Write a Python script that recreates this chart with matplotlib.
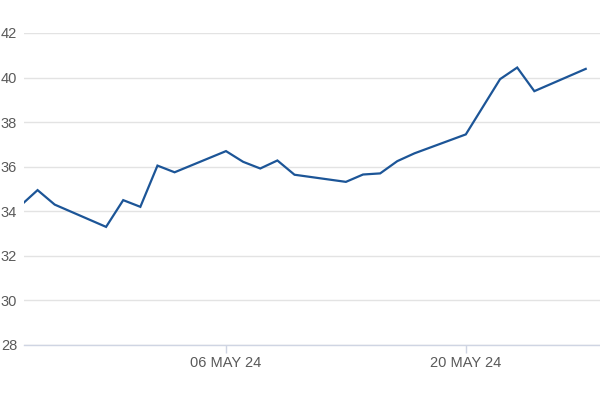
import matplotlib
matplotlib.use("Agg")
import matplotlib.pyplot as plt
import numpy as np
import pandas as pd

dates = ["2024-04-24", "2024-04-25", "2024-04-26", "2024-04-29", "2024-04-30",
         "2024-05-01", "2024-05-02", "2024-05-03", "2024-05-06", "2024-05-07",
         "2024-05-08", "2024-05-09", "2024-05-10", "2024-05-13", "2024-05-14",
         "2024-05-15", "2024-05-16", "2024-05-17", "2024-05-20", "2024-05-21",
         "2024-05-22", "2024-05-23", "2024-05-24", "2024-05-27"]
values = [34.25, 34.95, 34.3, 33.3, 34.5,
          34.2, 36.05, 35.75, 36.7, 36.22,
          35.92, 36.28, 35.64, 35.32, 35.65,
          35.7, 36.25, 36.6, 37.45, 38.69,
          39.93, 40.45, 39.39, 40.39]
yticks = [28, 30, 32, 34, 36, 38, 40, 42]
xtick_dates = ["2024-05-06", "2024-05-20"]
xtick_labels = ["06 MAY 24", "20 MAY 24"]

plt.rcParams['font.family'] = ['Liberation Sans', 'DejaVu Sans']

x = pd.to_datetime(dates)
fig = plt.figure(figsize=(6, 4), dpi=100)
ax = fig.add_axes([0.04, 0.1375, 0.96, 0.78])

ax.plot(x, values, color="#1c5597", lw=1.6, solid_joinstyle="miter")

ax.set_ylim(28, 42)
ax.set_xlim(pd.Timestamp("2024-04-24 05:00"), pd.Timestamp("2024-05-27 20:00"))
ax.set_yticks(yticks)
ax.set_yticklabels([str(t) for t in yticks])
ax.set_xticks(pd.to_datetime(xtick_dates))
ax.set_xticklabels(xtick_labels)

ax.grid(axis="y", color="#e3e3e3", lw=1)
ax.set_axisbelow(True)
for s in ["top", "right", "left"]:
    ax.spines[s].set_visible(False)
ax.spines["bottom"].set_color("#cfd5e3")
ax.spines["bottom"].set_linewidth(1)

ax.tick_params(axis="y", length=0, pad=5, labelsize=10.5, labelcolor="#5a5a5a")
ax.tick_params(axis="x", length=6, width=1, color="#cfd5e3", pad=2,
               labelsize=10.5, labelcolor="#5a5a5a")

fig.savefig("out.png", dpi=100)
